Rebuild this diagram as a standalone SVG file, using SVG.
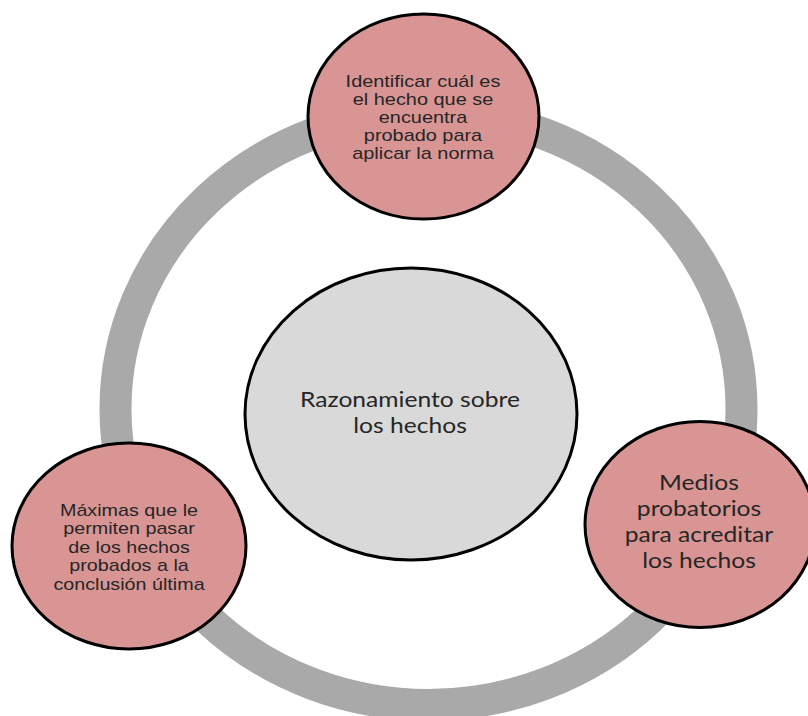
<svg xmlns="http://www.w3.org/2000/svg" width="808" height="716" viewBox="0 0 808 716">
<style>
.ring{fill:none;stroke:#a9a9a9;stroke-width:32}
.node{fill:#d99594;stroke:#000;stroke-width:3}
.core{fill:#d9d9d9;stroke:#000;stroke-width:3}
.a{font-family:"Liberation Sans",Arial,sans-serif;font-size:17px;fill:#262626;text-anchor:middle}
.c{font-family:Lato,"Open Sans",sans-serif;font-size:22px;fill:#262626;text-anchor:middle}
</style>
<rect width="808" height="716" fill="#fff"/>
<g id="connectors">
<ellipse class="ring" cx="428.5" cy="409" rx="313" ry="296"/>
</g>
<g id="center">
<ellipse class="core" cx="411" cy="414" rx="166" ry="146"/>
<g transform="translate(410,0) scale(1.12,1)">
<text class="c" x="0" y="407">Razonamiento sobre</text>
<text class="c" x="0" y="433">los hechos</text>
</g>
</g>
<g id="top">
<ellipse class="node" cx="423.5" cy="116.5" rx="115.5" ry="102.5"/>
<g transform="translate(423,0) scale(1.17,1)">
<text class="a" x="0" y="87">Identificar cuál es</text>
<text class="a" x="0" y="105">el hecho que se</text>
<text class="a" x="0" y="123">encuentra</text>
<text class="a" x="0" y="141">probado para</text>
<text class="a" x="0" y="159">aplicar la norma</text>
</g>
</g>
<g id="left">
<ellipse class="node" cx="129" cy="546" rx="117" ry="103"/>
<g transform="translate(129,0) scale(1.16,1)">
<text class="a" x="0" y="516">Máximas que le</text>
<text class="a" x="0" y="534.5">permiten pasar</text>
<text class="a" x="0" y="553">de los hechos</text>
<text class="a" x="0" y="571.5">probados a la</text>
<text class="a" x="0" y="590">conclusión última</text>
</g>
</g>
<g id="right">
<ellipse class="node" cx="700" cy="524.5" rx="115" ry="103"/>
<g transform="translate(699,0) scale(1.12,1)">
<text class="c" x="0" y="490">Medios</text>
<text class="c" x="0" y="516">probatorios</text>
<text class="c" x="0" y="542">para acreditar</text>
<text class="c" x="0" y="568">los hechos</text>
</g>
</g>
</svg>
